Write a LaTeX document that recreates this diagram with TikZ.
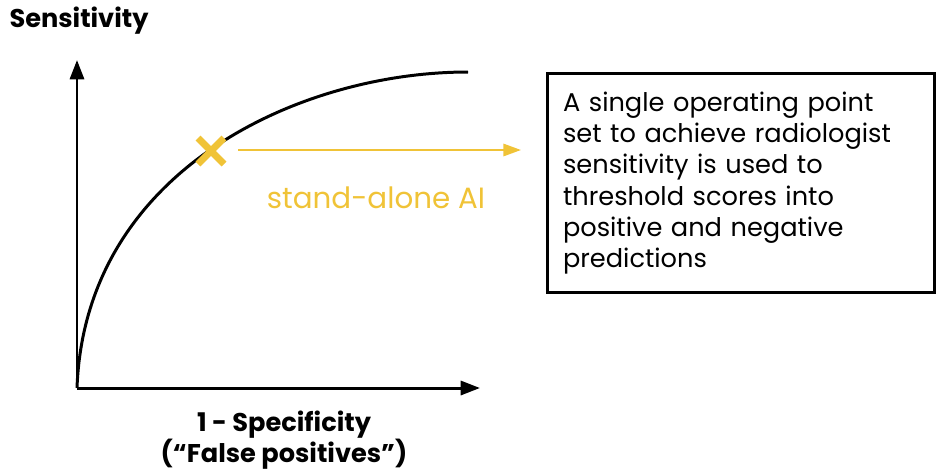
\documentclass[tikz,border=0pt]{standalone}
\usepackage{fontspec}
\setmainfont{Poppins}
\usetikzlibrary{arrows.meta}
\definecolor{aiyellow}{RGB}{240,195,55}

\begin{document}
\begin{tikzpicture}[x=0.02cm,y=-0.02cm,
  axis/.style={line width=1.7pt,-{Triangle[width=8pt,length=11pt]}},
  opmark/.style={draw=aiyellow,line width=4pt},
  note/.style={draw,line width=1.7pt,minimum width=7.76cm,minimum height=4.4cm,
    text width=7.12cm,inner xsep=0.32cm,align=left,
    font=\fontsize{14.6}{17.8}\selectfont}]
  \useasboundingbox (0,0) rectangle (937,471);
  % axes
  \coordinate (O) at (77,388);
  \coordinate (ytip) at (77,60);
  \coordinate (xtip) at (480,388);
  \draw[axis] (O) -- (ytip);
  \draw[axis] (O) -- (xtip);
  \node[font=\bfseries\fontsize{14.6}{16}\selectfont] (ylabel) at (79,21) {Sensitivity};
  \node[font=\bfseries\fontsize{14.6}{17.5}\selectfont,align=center,inner sep=1pt] (xlabel) at (284,440)
    {1 - Specificity\\(“False positives”)};
  % ROC curve
  \coordinate (cend) at (468,72);
  \draw[line width=1.7pt] (O) .. controls (85,170) and (300,72) .. (cend);
  % operating point
  \coordinate (op) at (211,151);
  \draw[opmark] (op) ++(-13,-13) -- ++(26,26) (op) ++(-13,13) -- ++(26,-26);
  \coordinate (arrowstart) at (238,150);
  \coordinate (arrowend) at (521,150);
  \draw[draw=aiyellow,line width=1.2pt,-{Triangle[width=7pt,length=10pt]}] (arrowstart) -- (arrowend);
  \node[text=aiyellow,font=\fontsize{16.7}{18}\selectfont] (ailabel) at (376,198) {stand-alone AI};
  % explanation box
  \node[note] (box) at (741,183) {A single operating point\\
    set to achieve radiologist\\
    sensitivity is used to\\
    threshold scores into\\
    positive and negative\\
    predictions};
\end{tikzpicture}
\end{document}
